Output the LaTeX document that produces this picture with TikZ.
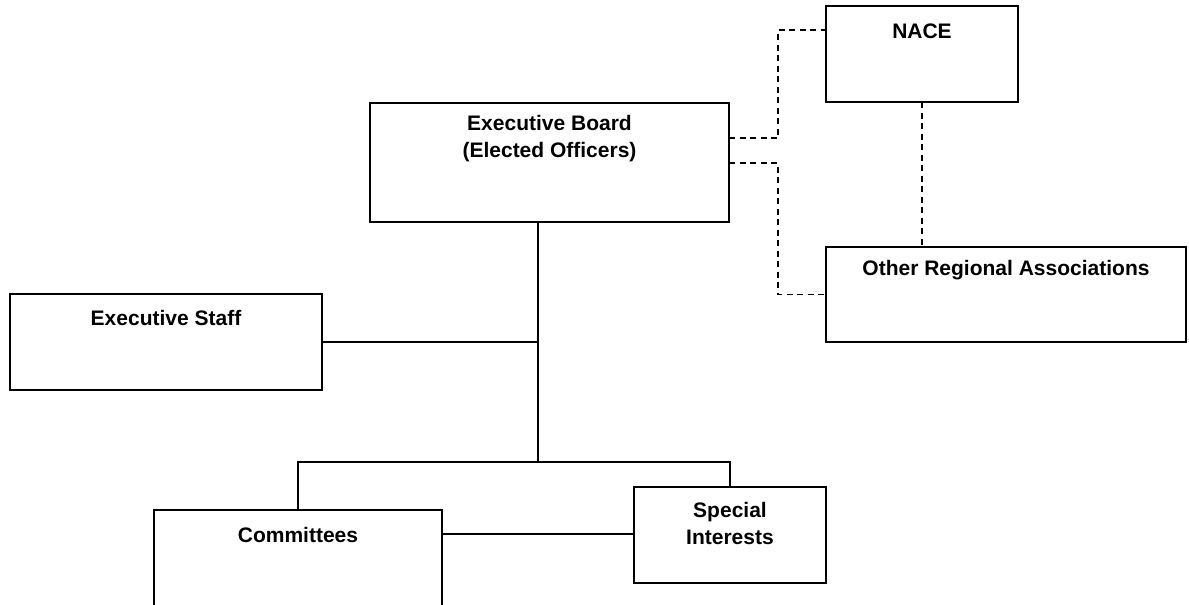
\documentclass[tikz,border=0pt]{standalone}
\usepackage{fontspec}
\setmainfont{Liberation Sans}
\usetikzlibrary{calc}
\begin{document}
\begin{tikzpicture}[x=1pt,y=-1pt,
  box/.style={draw, line width=1.8pt, inner sep=0pt, outer sep=0pt, anchor=north west},
  lab/.style={font=\bfseries\fontsize{21}{27}\selectfont, align=center, inner sep=0pt},
  conn/.style={line width=1.8pt},
  dconn/.style={line width=1.8pt, dash pattern=on 6pt off 4.5pt}]
\useasboundingbox (0,0) rectangle (1189,605);
\clip (0,0) rectangle (1189,605);
% boxes
\node[box, minimum width=359pt, minimum height=119pt] (eb) at (370,103) {};
\node[box, minimum width=192pt, minimum height=96pt] (nace) at (826,6) {};
\node[box, minimum width=360pt, minimum height=95pt] (ora) at (826,247) {};
\node[box, minimum width=312pt, minimum height=96pt] (es) at (10,294) {};
\node[box, minimum width=288pt, minimum height=130pt] (com) at (154,510) {};
\node[box, minimum width=192pt, minimum height=96pt] (si) at (634,487) {};
% labels
\node[lab] (ebt) at (549.5,139) {Executive Board\\(Elected Officers)};
\node[lab] (nacet) at (922,31) {NACE};
\node[lab] (orat) at (1006,270) {Other Regional Associations};
\node[lab] (est) at (166,318) {Executive Staff};
\node[lab] (comt) at (298,535) {Committees};
\node[lab] (sit) at (730,523) {Special\\Interests};
% solid connectors
\coordinate (j1) at (538,342);
\coordinate (j2) at (538,462);
\draw[conn] (j2 |- eb.south) -- (j2);
\draw[conn] (es.east |- j1) -- (j1);
\draw[conn] (com.north) -- (com.north |- j2) -- (si.north |- j2) -- (si.north);
\draw[conn] (si.west |- 0,534) -- (com.east |- 0,534);
% dashed connectors
\coordinate (da) at (778,138);
\coordinate (db) at (778,163);
\coordinate (nw) at ($(nace.north west)+(0,24)$);
\draw[dconn] (da -| eb.east) -- (da) |- (nw);
\draw[dconn] (db -| eb.east) -- (db) |- (ora.west);
\draw[dconn] (nace.south) -- (nace.south |- ora.north);
\end{tikzpicture}
\end{document}
